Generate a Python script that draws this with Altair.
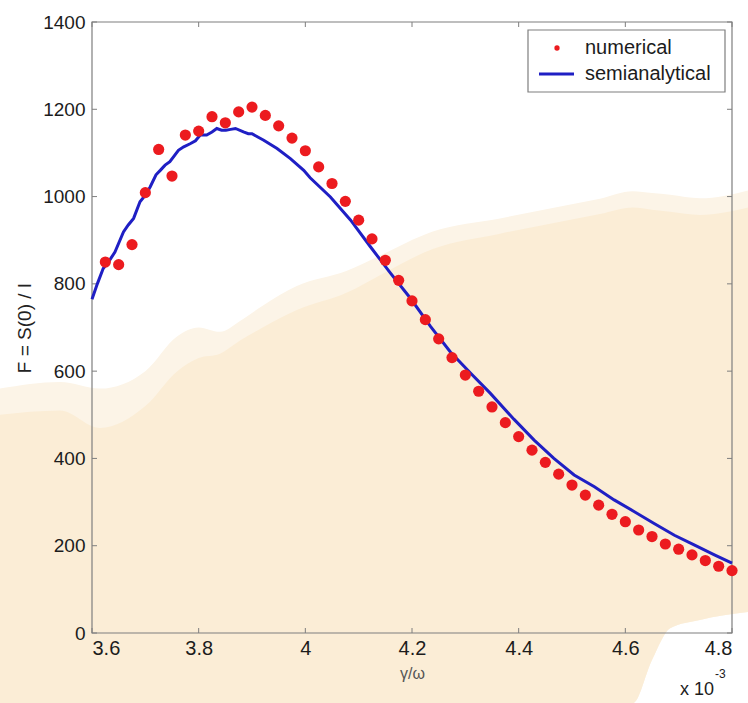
import altair as alt
import pandas as pd

# ---- data (gamma/omega in units of 1e-3, enhancement factor F) ----
num_x = [3.625, 3.65, 3.675, 3.7, 3.725, 3.75, 3.775, 3.8, 3.825, 3.85, 3.875, 3.9,
         3.925, 3.95, 3.975, 4.0, 4.025, 4.05, 4.075, 4.1, 4.125, 4.15, 4.175, 4.2,
         4.225, 4.25, 4.275, 4.3, 4.325, 4.35, 4.375, 4.4, 4.425, 4.45, 4.475, 4.5,
         4.525, 4.55, 4.575, 4.6, 4.625, 4.65, 4.675, 4.7, 4.725, 4.75, 4.775, 4.8]
num_f = [850, 844, 890, 1009, 1108, 1047, 1141, 1150, 1183, 1169, 1194, 1205,
         1186, 1162, 1134, 1105, 1068, 1030, 989, 946, 903, 854, 808, 761,
         718, 674, 631, 591, 554, 518, 482, 450, 419, 391, 364, 339,
         316, 293, 272, 255, 236, 221, 204, 192, 179, 166, 153, 143]

semi_x = [3.6, 3.61, 3.621, 3.632, 3.643, 3.659, 3.668, 3.678, 3.69, 3.70, 3.709,
          3.72, 3.728, 3.737, 3.746, 3.762, 3.772, 3.784, 3.794, 3.803, 3.815,
          3.825, 3.834, 3.843, 3.851, 3.86, 3.869, 3.884, 3.893, 3.9, 3.91, 3.922,
          3.947, 3.972, 3.997, 4.009, 4.047, 4.085, 4.122, 4.16, 4.197, 4.235,
          4.272, 4.31, 4.347, 4.391, 4.429, 4.466, 4.504, 4.542, 4.579, 4.617,
          4.654, 4.692, 4.729, 4.767, 4.8]
semi_f = [765, 800, 835, 852, 873, 919, 935, 950, 988, 1003, 1022,
          1050, 1060, 1072, 1080, 1106, 1114, 1121, 1128, 1141, 1141,
          1148, 1156, 1152, 1152, 1154, 1156, 1148, 1144, 1144, 1137, 1129,
          1110, 1087, 1060, 1043, 999, 946, 885, 824, 767, 702,
          644, 595, 549, 490, 442, 400, 362, 335, 305, 278,
          251, 224, 202, 179, 160]

x_ticks = [3.6, 3.8, 4.0, 4.2, 4.4, 4.6, 4.8]
y_ticks = [0, 200, 400, 600, 800, 1000, 1200, 1400]

legend_labels = ["numerical", "semianalytical"]

# beige backdrop patch behind the axes (outer soft fringe and inner body)
patch_x = [3.4275, 3.54, 3.615, 3.70, 3.76, 3.80, 3.84, 3.8775, 3.92, 3.984,
           4.078, 4.14, 4.239, 4.365, 4.49, 4.5525, 4.614, 4.65, 4.684, 4.74, 4.83]
patch_top = [560, 575, 560, 600, 680, 700, 690, 715, 750, 795,
             830, 865, 920, 950, 980, 995, 1012, 1008, 1004, 996, 1014]
patch_inner = [500, 510, 470, 520, 600, 630, 640, 670, 700, 740,
               780, 820, 880, 915, 945, 960, 975, 970, 965, 958, 975]
patch_bottom = [-161, -161, -161, -161, -161, -161, -161, -161, -161, -161,
                -161, -161, -161, -161, -161, -161, -161, -62, 11, 30, 48]

W, H = 640, 611
RED = "#ec1b1f"
BLUE = "#1f1fc4"
FRAME = "#7f7f7f"
FONT = "Liberation Sans"
INK = "#1c1c1c"

num_df = pd.DataFrame({"x": num_x, "f": num_f})
semi_df = pd.DataFrame({"x": semi_x, "f": semi_f})
patch_df = pd.DataFrame({"x": patch_x, "top": patch_top, "inner": patch_inner,
                         "bottom": patch_bottom})
xt_df = pd.DataFrame({"x": x_ticks})
yt_df = pd.DataFrame({"f": y_ticks})
one = pd.DataFrame({"k": [0]})

xs = alt.Scale(domain=[3.6, 4.8], nice=False, zero=False)
ys = alt.Scale(domain=[0, 1400], nice=False, zero=False)

X_AX = alt.Axis(values=x_ticks, format="~g", title="γ/ω", domain=False,
                ticks=False, grid=False, labelPadding=5, titlePadding=7, zindex=1)
Y_AX = alt.Axis(values=y_ticks, format="d", title="F = S(0) / I", domain=False,
                ticks=False, grid=False, labelPadding=7, titlePadding=8, zindex=1)


def xenc(field="x"):
    return alt.X(f"{field}:Q", scale=xs, axis=X_AX, title="γ/ω")


def yenc(field="f"):
    return alt.Y(f"{field}:Q", scale=ys, axis=Y_AX, title="F = S(0) / I")


patch_outer = alt.Chart(patch_df).mark_area(
    clip=False, color="#fcf4e7", interpolate="monotone").encode(
    x=xenc(), y=yenc("top"), y2="bottom:Q")
patch_body = alt.Chart(patch_df).mark_area(
    clip=False, color="#fbedd6", interpolate="monotone").encode(
    x=xenc(), y=yenc("inner"), y2="bottom:Q")

frame = alt.Chart(one).mark_rect(fill=None, stroke=FRAME, strokeWidth=1.2).encode(
    x=alt.value(0), x2=alt.value(W), y=alt.value(0), y2=alt.value(H)
)

tick_bottom = alt.Chart(xt_df).mark_rule(color=FRAME).encode(
    x=xenc(), y=alt.value(H), y2=alt.value(H - 5))
tick_top = alt.Chart(xt_df).mark_rule(color=FRAME).encode(
    x=xenc(), y=alt.value(0), y2=alt.value(5))
tick_left = alt.Chart(yt_df).mark_rule(color=FRAME).encode(
    y=yenc(), x=alt.value(0), x2=alt.value(5))
tick_right = alt.Chart(yt_df).mark_rule(color=FRAME).encode(
    y=yenc(), x=alt.value(W - 5), x2=alt.value(W))

semi = alt.Chart(semi_df).mark_line(color=BLUE, strokeWidth=3).encode(
    x=xenc(), y=yenc())

points = alt.Chart(num_df).mark_circle(color=RED, size=125, opacity=1).encode(
    x=xenc(), y=yenc())

legend_box = alt.Chart(one).mark_rect(fill="white", stroke=FRAME, strokeWidth=1.2).encode(
    x=alt.value(436), x2=alt.value(633), y=alt.value(8), y2=alt.value(70))
legend_dot = alt.Chart(one).mark_circle(color=RED, size=28, opacity=1).encode(
    x=alt.value(465), y=alt.value(26))
legend_line = alt.Chart(one).mark_rule(color=BLUE, strokeWidth=3).encode(
    x=alt.value(447), x2=alt.value(482), y=alt.value(52))
legend_t1 = alt.Chart(one).mark_text(align="left", baseline="middle", font=FONT,
                                     fontSize=20, color=INK).encode(
    x=alt.value(493), y=alt.value(26), text=alt.value(legend_labels[0]))
legend_t2 = alt.Chart(one).mark_text(align="left", baseline="middle", font=FONT,
                                     fontSize=20, color=INK).encode(
    x=alt.value(493), y=alt.value(52), text=alt.value(legend_labels[1]))

mult = alt.Chart(one).mark_text(align="left", baseline="alphabetic", font=FONT,
                                fontSize=18, color=INK).encode(
    x=alt.value(588), y=alt.value(673), text=alt.value("x 10"))
mult_exp = alt.Chart(one).mark_text(align="left", baseline="alphabetic", font=FONT,
                                    fontSize=12, color=INK).encode(
    x=alt.value(623), y=alt.value(656), text=alt.value("-3"))

chart = alt.layer(
    patch_outer, patch_body, frame, tick_bottom, tick_top, tick_left, tick_right,
    semi, points, legend_box, legend_dot, legend_line, legend_t1, legend_t2,
    mult, mult_exp,
).properties(
    width=W, height=H,
    autosize=alt.AutoSizeParams(type="none"),
    padding={"left": 92, "top": 22, "right": 16, "bottom": 70},
    background="white",
).configure_view(stroke=None).configure_axis(
    labelFont=FONT, labelFontSize=19, labelColor=INK,
    titleFont=FONT, titleFontSize=19, titleColor="#222222", titleFontWeight="normal",
).configure_axisX(labelFontSize=20, titleFontSize=16, titleColor="#555555")

chart.save("out.html", embed_options={"renderer": "svg", "actions": False})
